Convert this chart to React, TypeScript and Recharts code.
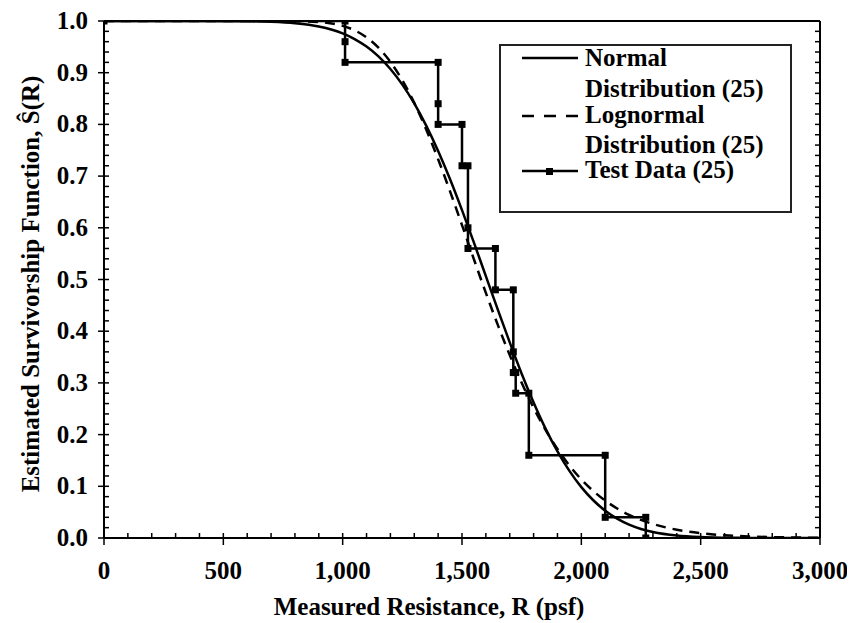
import React from "react";
import { ComposedChart, Line, XAxis, YAxis, Legend } from "recharts";

// tick labels
const xMajor = [0, 500, 1000, 1500, 2000, 2500, 3000];
const xMinor = Array.from({ length: 31 }, (_, i) => i * 100);
const yMinor = Array.from({ length: 51 }, (_, i) => i / 50);

// fitted curves
const curveR = [0, 400, 600, 700, 800, 900, 1000, 1050, 1100, 1150, 1200, 1250, 1300, 1350, 1400, 1450, 1500, 1550, 1600, 1650, 1700, 1750, 1800, 1850, 1900, 1950, 2000, 2050, 2100, 2150, 2200, 2250, 2300, 2400, 2500, 2600, 2700, 2800, 3000];
const normalS = [1.0, 1.0, 0.9995, 0.9985, 0.9957, 0.9894, 0.976, 0.9651, 0.9505, 0.9315, 0.9072, 0.877, 0.8406, 0.7976, 0.7486, 0.6939, 0.6342, 0.5714, 0.5064, 0.4416, 0.3783, 0.3178, 0.2621, 0.2116, 0.1675, 0.1298, 0.0984, 0.073, 0.0528, 0.0375, 0.0259, 0.0175, 0.0116, 0.0047, 0.0017, 0.0006, 0.0002, 0.0, 0.0];
const lognormalS = [1.0, 1.0, 1.0, 1.0, 0.9998, 0.998, 0.9905, 0.982, 0.9683, 0.9484, 0.9209, 0.8853, 0.8416, 0.7902, 0.7327, 0.6704, 0.6053, 0.539, 0.4741, 0.4122, 0.3538, 0.3001, 0.252, 0.2093, 0.1721, 0.1403, 0.1133, 0.0909, 0.0723, 0.0571, 0.0448, 0.0349, 0.0271, 0.016, 0.0093, 0.0053, 0.003, 0.0017, 0.0005];

// test data step function
const testR = [0, 1010, 1010, 1010, 1400, 1400, 1400, 1500, 1500, 1525, 1525, 1525, 1640, 1640, 1715, 1715, 1715, 1725, 1725, 1780, 1780, 2100, 2100, 2270, 2270];
const testS = [1.0, 1.0, 0.96, 0.92, 0.92, 0.84, 0.8, 0.8, 0.72, 0.72, 0.6, 0.56, 0.56, 0.48, 0.48, 0.36, 0.32, 0.32, 0.28, 0.28, 0.16, 0.16, 0.04, 0.04, 0.0];

const normalData = curveR.map((r, i) => ({ r, s: normalS[i] }));
const lognormalData = curveR.map((r, i) => ({ r, s: lognormalS[i] }));
const testData = testR.map((r, i) => ({ r, s: testS[i] }));

const serif = "'Liberation Serif', 'Times New Roman', Times, Tinos, 'Nimbus Roman', 'Nimbus Roman No9 L', 'FreeSerif', 'Noto Serif', 'DejaVu Serif', serif";

const withCommas = (v: number) => String(v).replace(/\B(?=(\d{3})+(?!\d))/g, ",");

const BottomTick = ({ x, y, payload }: any) => {
  const v = payload.value as number;
  const major = xMajor.includes(v);
  return (
    <g>
      <line x1={x} x2={x} y1={y - 5} y2={major ? y + 7 : y} stroke="#000" strokeWidth={1.5} />
      {major && (
        <text x={x} y={y + 41} textAnchor="middle" style={{ fontFamily: serif, fontWeight: 700, fontSize: 25 }} fill="#000">
          {withCommas(v)}
        </text>
      )}
    </g>
  );
};

const TopTick = ({ x, y }: any) => <line x1={x} x2={x} y1={y} y2={y + 5} stroke="#000" strokeWidth={1.5} />;

const LeftTick = ({ x, y, payload }: any) => {
  const v = payload.value as number;
  const major = Math.round(v * 100) % 10 === 0;
  return (
    <g>
      <line x1={major ? x - 6 : x} x2={x + 5} y1={y} y2={y} stroke="#000" strokeWidth={1.5} />
      {major && (
        <text x={x - 16} y={y + 8} textAnchor="end" style={{ fontFamily: serif, fontWeight: 700, fontSize: 25 }} fill="#000">
          {v.toFixed(1)}
        </text>
      )}
    </g>
  );
};

const RightTick = ({ x, y }: any) => <line x1={x - 5} x2={x} y1={y} y2={y} stroke="#000" strokeWidth={1.5} />;

const Square = ({ cx, cy, index }: any) => <rect key={index} x={cx - 3.5} y={cy - 3.5} width={7} height={7} fill="#000" />;

const LegendBox = () => (
  <svg width={293} height={169} style={{ display: "block", fontFamily: serif, fontWeight: 700, fontSize: 25 }}>
    <rect x={1} y={1} width={291} height={167} fill="#fff" stroke="#222" strokeWidth={2} />
    <line x1={23} x2={79} y1={14} y2={14} stroke="#000" strokeWidth={2.5} />
    <text x={86} y={22}>Normal</text>
    <text x={86} y={53}>Distribution (25)</text>
    <line x1={23} x2={79} y1={72} y2={72} stroke="#000" strokeWidth={2.5} strokeDasharray="12 10" />
    <text x={86} y={79}>Lognormal</text>
    <text x={86} y={109}>Distribution (25)</text>
    <line x1={23} x2={79} y1={127} y2={127} stroke="#000" strokeWidth={2.5} />
    <rect x={47} y={124} width={7} height={7} fill="#000" />
    <text x={86} y={134}>Test Data (25)</text>
  </svg>
);

export default function App() {
  return (
    <ComposedChart width={847} height={615} margin={{ top: 3, right: 25, bottom: 0, left: 0 }}>
      <XAxis
        xAxisId="b"
        dataKey="r"
        type="number"
        domain={[0, 3000]}
        allowDataOverflow
        ticks={xMinor}
        interval={0}
        height={85}
        tickSize={0}
        tickMargin={0}
        tickLine={false}
        tick={<BottomTick />}
        axisLine={{ stroke: "#000", strokeWidth: 2 }}
        label={() => (
          <text x={421} y={607} textAnchor="middle" style={{ fontFamily: serif, fontWeight: 700, fontSize: 25 }} fill="#000">
            Measured Resistance, R (psf)
          </text>
        )}
      />
      <XAxis
        xAxisId="t"
        orientation="top"
        type="number"
        domain={[0, 3000]}
        allowDataOverflow
        ticks={xMinor}
        interval={0}
        height={10}
        tickSize={0}
        tickMargin={0}
        tickLine={false}
        tick={<TopTick />}
        axisLine={{ stroke: "#000", strokeWidth: 2 }}
      />
      <YAxis
        yAxisId="l"
        type="number"
        domain={[0, 1]}
        allowDataOverflow
        ticks={yMinor}
        interval={0}
        width={96}
        tickSize={0}
        tickMargin={0}
        tickLine={false}
        tick={<LeftTick />}
        axisLine={{ stroke: "#000", strokeWidth: 2 }}
        label={() => (
          <text
            x={22}
            y={276}
            textAnchor="middle"
            dominantBaseline="central"
            transform="rotate(-90 22 276)"
            style={{ fontFamily: serif, fontWeight: 700, fontSize: 25 }}
            fill="#000"
          >
            Estimated Survivorship Function, Ŝ(R)
          </text>
        )}
      />
      <YAxis
        yAxisId="r"
        orientation="right"
        type="number"
        domain={[0, 1]}
        allowDataOverflow
        ticks={yMinor}
        interval={0}
        width={10}
        tickSize={0}
        tickMargin={0}
        tickLine={false}
        tick={<RightTick />}
        axisLine={{ stroke: "#000", strokeWidth: 2 }}
      />
      <Legend
        layout="horizontal"
        verticalAlign="middle"
        align="center"
        wrapperStyle={{ left: 491, top: 36, width: 293, height: 169 }}
        content={() => <LegendBox />}
      />
      <Line
        xAxisId="b"
        yAxisId="l"
        data={lognormalData}
        dataKey="s"
        type="monotone"
        stroke="#000"
        strokeWidth={2.5}
        strokeDasharray="10 7"
        dot={false}
        activeDot={false}
        isAnimationActive={false}
      />
      <Line
        xAxisId="b"
        yAxisId="l"
        data={normalData}
        dataKey="s"
        type="monotone"
        stroke="#000"
        strokeWidth={2.5}
        dot={false}
        activeDot={false}
        isAnimationActive={false}
      />
      <Line
        xAxisId="b"
        yAxisId="l"
        data={testData}
        dataKey="s"
        type="linear"
        stroke="#000"
        strokeWidth={2.5}
        dot={<Square />}
        activeDot={false}
        isAnimationActive={false}
      />
    </ComposedChart>
  );
}
